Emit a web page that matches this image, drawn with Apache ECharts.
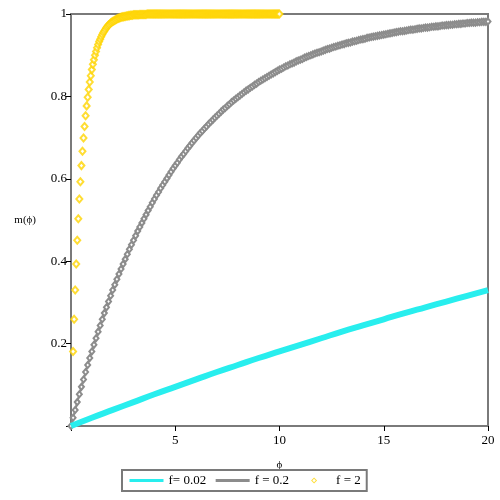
<!DOCTYPE html>
<html>
<head>
<meta charset="utf-8">
<script src="https://cdn.jsdelivr.net/npm/echarts@6/dist/echarts.min.js"></script>
<style>
  html, body { margin: 0; padding: 0; background: #fff; }
  #chart { width: 500px; height: 500px; }
</style>
</head>
<body>
<div id="chart"></div>
<script>
// m(phi)

// f = 0.02 : phi = 0, 1, 2, ... 20
const cyanStart = 0
const cyanStep = 1
const cyanValues = [
  0, 0.020, 0.039, 0.058, 0.077, 0.095, 0.113, 0.131, 0.148, 0.165, 0.181,
  0.197, 0.213, 0.229, 0.244, 0.259, 0.274, 0.288, 0.302, 0.316, 0.330,
]

// f = 0.2 : phi = 0, 0.1, 0.2, ... 20
const grayStart = 0
const grayStep = 0.1
const grayValues = [
  0, 0.020, 0.039, 0.058, 0.077, 0.095, 0.113, 0.131, 0.148, 0.165,
  0.181, 0.197, 0.213, 0.229, 0.244, 0.259, 0.274, 0.288, 0.302, 0.316,
  0.330, 0.343, 0.356, 0.369, 0.381, 0.393, 0.405, 0.417, 0.429, 0.440,
  0.451, 0.462, 0.473, 0.483, 0.493, 0.503, 0.513, 0.523, 0.532, 0.542,
  0.551, 0.560, 0.568, 0.577, 0.585, 0.593, 0.601, 0.609, 0.617, 0.625,
  0.632, 0.639, 0.647, 0.654, 0.660, 0.667, 0.674, 0.680, 0.687, 0.693,
  0.699, 0.705, 0.711, 0.716, 0.722, 0.727, 0.733, 0.738, 0.743, 0.748,
  0.753, 0.758, 0.763, 0.768, 0.772, 0.777, 0.781, 0.786, 0.790, 0.794,
  0.798, 0.802, 0.806, 0.810, 0.814, 0.817, 0.821, 0.824, 0.828, 0.831,
  0.835, 0.838, 0.841, 0.844, 0.847, 0.850, 0.853, 0.856, 0.859, 0.862,
  0.865, 0.867, 0.870, 0.873, 0.875, 0.878, 0.880, 0.882, 0.885, 0.887,
  0.889, 0.891, 0.894, 0.896, 0.898, 0.900, 0.902, 0.904, 0.906, 0.907,
  0.909, 0.911, 0.913, 0.915, 0.916, 0.918, 0.920, 0.921, 0.923, 0.924,
  0.926, 0.927, 0.929, 0.930, 0.931, 0.933, 0.934, 0.935, 0.937, 0.938,
  0.939, 0.940, 0.942, 0.943, 0.944, 0.945, 0.946, 0.947, 0.948, 0.949,
  0.950, 0.951, 0.952, 0.953, 0.954, 0.955, 0.956, 0.957, 0.958, 0.958,
  0.959, 0.960, 0.961, 0.962, 0.962, 0.963, 0.964, 0.965, 0.965, 0.966,
  0.967, 0.967, 0.968, 0.969, 0.969, 0.970, 0.970, 0.971, 0.972, 0.972,
  0.973, 0.973, 0.974, 0.974, 0.975, 0.975, 0.976, 0.976, 0.977, 0.977,
  0.978, 0.978, 0.979, 0.979, 0.979, 0.980, 0.980, 0.981, 0.981, 0.981,
  0.982,
]

// f = 2 : phi = 0.10, 0.15, 0.20, ... 10
const goldStart = 0.1
const goldStep = 0.05
const goldValues = [
  0.181, 0.259, 0.330, 0.393, 0.451, 0.503, 0.551, 0.593, 0.632, 0.667,
  0.699, 0.727, 0.753, 0.777, 0.798, 0.817, 0.835, 0.850, 0.865, 0.878,
  0.889, 0.900, 0.909, 0.918, 0.926, 0.933, 0.939, 0.945, 0.950, 0.955,
  0.959, 0.963, 0.967, 0.970, 0.973, 0.975, 0.978, 0.980, 0.982, 0.983,
  0.985, 0.986, 0.988, 0.989, 0.990, 0.991, 0.992, 0.993, 0.993, 0.994,
  0.994, 0.995, 0.995, 0.996, 0.996, 0.997, 0.997, 0.997, 0.998, 0.998,
  0.998, 0.998, 0.998, 0.998, 0.999, 0.999, 0.999, 0.999, 0.999, 0.999,
  0.999, 1, 1, 1, 1, 1, 1, 1, 1, 1,
  1, 1, 1, 1, 1, 1, 1, 1, 1, 1,
  1, 1, 1, 1, 1, 1, 1, 1, 1, 1,
  1, 1, 1, 1, 1, 1, 1, 1, 1, 1,
  1, 1, 1, 1, 1, 1, 1, 1, 1, 1,
  1, 1, 1, 1, 1, 1, 1, 1, 1, 1,
  1, 1, 1, 1, 1, 1, 1, 1, 1, 1,
  1, 1, 1, 1, 1, 1, 1, 1, 1, 1,
  1, 1, 1, 1, 1, 1, 1, 1, 1, 1,
  1, 1, 1, 1, 1, 1, 1, 1, 1, 1,
  1, 1, 1, 1, 1, 1, 1, 1, 1, 1,
  1, 1, 1, 1, 1, 1, 1, 1, 1, 1,
  1, 1, 1, 1, 1, 1, 1, 1, 1,
]

const seriesNames = ['f= 0.02', 'f = 0.2', 'f = 2']
const xName = 'ϕ'
const yName = 'm(ϕ)'

const serif = '"Liberation Serif", "Times New Roman", serif'

// hollow diamond centred in the wide legend slot (the moves fix the box)
const legendDiamond =
  'path://M0,0M34,0M34,6M0,6' +
  'M17,0L20,3L17,6L14,3Z' +
  'M17,1.3L15.3,3L17,4.7L18.7,3Z'

// pair each value with its phi on the sampling grid
const toPairs = (start, step, values) =>
  values.map((v, i) => [Math.round((start + i * step) * 1000) / 1000, v])

const hideZero = (v) => (v === 0 ? '' : String(v))

const chart = echarts.init(document.getElementById('chart'))

const option = {
  animation: false,
  backgroundColor: '#fff',
  grid: {
    left: 71,
    right: 12,
    top: 14,
    bottom: 74,
    show: true,
    borderColor: '#7a7a7a',
    borderWidth: 2,
  },
  xAxis: {
    type: 'value',
    min: 0,
    max: 20,
    interval: 5,
    name: xName,
    nameLocation: 'middle',
    nameGap: 34,
    nameTextStyle: { fontFamily: serif, fontSize: 11, color: '#000' },
    axisLine: { lineStyle: { color: '#7a7a7a', width: 2 } },
    axisTick: { length: 5, lineStyle: { color: '#000', width: 1 } },
    axisLabel: { formatter: hideZero, fontFamily: serif, fontSize: 13, color: '#000', margin: 8 },
    splitLine: { show: false },
  },
  yAxis: {
    type: 'value',
    min: 0,
    max: 1,
    interval: 0.2,
    name: yName,
    nameLocation: 'middle',
    nameRotate: 0,
    nameGap: 35,
    nameTextStyle: { fontFamily: serif, fontSize: 11, color: '#000' },
    axisLine: { lineStyle: { color: '#7a7a7a', width: 2 } },
    axisTick: { length: 5, lineStyle: { color: '#000', width: 1 } },
    axisLabel: { formatter: hideZero, fontFamily: serif, fontSize: 13, color: '#000', margin: 4 },
    splitLine: { show: false },
  },
  legend: {
    left: 122,
    top: 470,
    padding: [4, 6],
    borderColor: '#7a7a7a',
    borderWidth: 2,
    itemWidth: 34,
    itemHeight: 6,
    itemGap: 8,
    textStyle: { fontFamily: serif, fontSize: 13, color: '#000' },
    data: [
      { name: seriesNames[0], itemStyle: { opacity: 0 }, lineStyle: { width: 3 } },
      { name: seriesNames[1], itemStyle: { opacity: 0 }, lineStyle: { width: 3 } },
      {
        name: seriesNames[2],
        icon: legendDiamond,
        itemStyle: { color: '#ffd400', borderWidth: 0 },
      },
    ],
  },
  series: [
    {
      name: seriesNames[1],
      type: 'line',
      data: toPairs(grayStart, grayStep, grayValues),
      symbol: 'emptyDiamond',
      symbolSize: [5, 6],
      showAllSymbol: true,
      color: '#8c8c8c',
      lineStyle: { color: '#8c8c8c', width: 2 },
      itemStyle: { color: '#8c8c8c', borderWidth: 1 },
      z: 2,
    },
    {
      name: seriesNames[0],
      type: 'line',
      data: toPairs(cyanStart, cyanStep, cyanValues),
      symbol: 'none',
      smooth: true,
      color: '#28eeee',
      lineStyle: { color: '#28eeee', width: 6 },
      z: 3,
    },
    {
      name: seriesNames[2],
      type: 'scatter',
      data: toPairs(goldStart, goldStep, goldValues),
      symbol: 'emptyDiamond',
      symbolSize: [6, 7],
      color: '#ffd400',
      itemStyle: { color: '#ffd400', borderWidth: 1.2 },
      z: 4,
    },
  ],
}

chart.setOption(option)
</script>
</body>
</html>
